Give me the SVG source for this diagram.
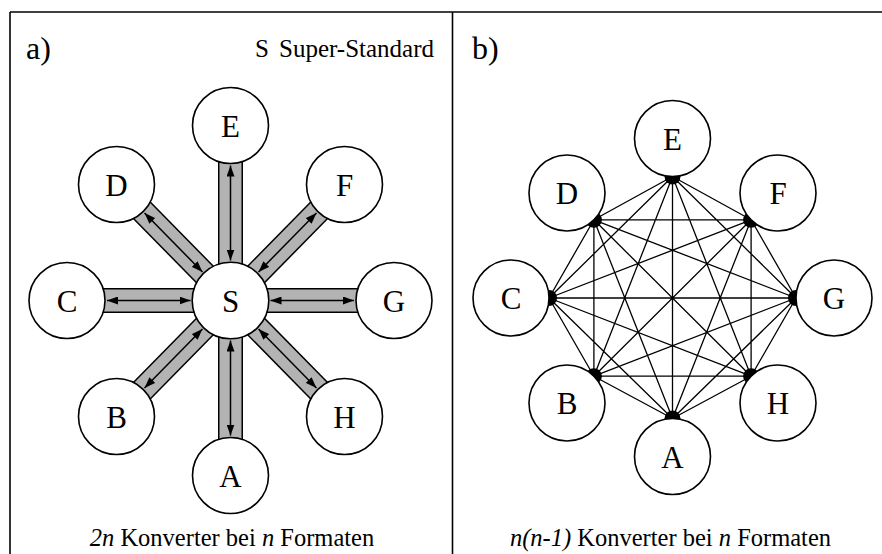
<svg xmlns="http://www.w3.org/2000/svg" width="882" height="554" viewBox="0 0 882 554">
<style>
.frame{stroke:#000;stroke-width:1.6;fill:none}
.node circle{fill:#fff;stroke:#000;stroke-width:1.6}
.node text{font-family:"Liberation Serif","Times New Roman",serif;font-size:31px;text-anchor:middle;fill:#000}
.lbl{font-family:"Liberation Serif","Times New Roman",serif;fill:#000}
.bandO{stroke:#000;stroke-width:25;fill:none}
.bandI{stroke:#b3b3b3;stroke-width:22;fill:none}
.arr{stroke:#000;stroke-width:1.5;fill:none;marker-start:url(#ah);marker-end:url(#ah)}
.edge{stroke:#000;stroke-width:1.3;fill:none}
.dot{fill:#000}
</style>
<defs>
<marker id="ah" viewBox="0 0 11 8" refX="11" refY="4" markerWidth="11" markerHeight="8" markerUnits="userSpaceOnUse" orient="auto-start-reverse">
<path d="M0,0 L11,4 L0,8 Z" fill="#000"/>
</marker>
</defs>
<rect width="882" height="554" fill="#fff"/>
<g id="frame">
<line class="frame" x1="10" y1="12" x2="882" y2="12"/>
<line class="frame" x1="10" y1="12" x2="10" y2="554"/>
<line class="frame" x1="452.5" y1="12" x2="452.5" y2="554"/>
</g>
<g id="labels">
<text class="lbl" x="26" y="59" font-size="32">a)</text>
<text class="lbl" x="472" y="59" font-size="32">b)</text>
<text class="lbl" font-size="25" y="57"><tspan x="255">S</tspan><tspan x="279">Super-Standard</tspan></text>
<text class="lbl" font-size="24.5" x="232" y="546" text-anchor="middle"><tspan font-style="italic">2n</tspan> Konverter bei <tspan font-style="italic">n</tspan> Formaten</text>
<text class="lbl" font-size="24.5" x="670.5" y="546" text-anchor="middle"><tspan font-style="italic">n(n-1)</tspan> Konverter bei <tspan font-style="italic">n</tspan> Formaten</text>
</g>
<g id="connectors-a">
<g>
<line class="bandO" x1="230.5" y1="300.5" x2="230.5" y2="125.5"/>
<line class="bandO" x1="230.5" y1="300.5" x2="230.5" y2="475.5"/>
<line class="bandO" x1="230.5" y1="300.5" x2="67" y2="300.5"/>
<line class="bandO" x1="230.5" y1="300.5" x2="394" y2="300.5"/>
<line class="bandO" x1="230.5" y1="300.5" x2="116.5" y2="184.5"/>
<line class="bandO" x1="230.5" y1="300.5" x2="344.5" y2="184.5"/>
<line class="bandO" x1="230.5" y1="300.5" x2="116.5" y2="416.5"/>
<line class="bandO" x1="230.5" y1="300.5" x2="344.5" y2="416.5"/>
<line class="bandI" x1="230.5" y1="300.5" x2="230.5" y2="125.5"/>
<line class="bandI" x1="230.5" y1="300.5" x2="230.5" y2="475.5"/>
<line class="bandI" x1="230.5" y1="300.5" x2="67" y2="300.5"/>
<line class="bandI" x1="230.5" y1="300.5" x2="394" y2="300.5"/>
<line class="bandI" x1="230.5" y1="300.5" x2="116.5" y2="184.5"/>
<line class="bandI" x1="230.5" y1="300.5" x2="344.5" y2="184.5"/>
<line class="bandI" x1="230.5" y1="300.5" x2="116.5" y2="416.5"/>
<line class="bandI" x1="230.5" y1="300.5" x2="344.5" y2="416.5"/>
</g>
<line class="arr" x1="230.5" y1="260.5" x2="230.5" y2="165.5"/>
<line class="arr" x1="230.5" y1="340.5" x2="230.5" y2="435.5"/>
<line class="arr" x1="190.5" y1="300.5" x2="107" y2="300.5"/>
<line class="arr" x1="270.5" y1="300.5" x2="354" y2="300.5"/>
<line class="arr" x1="202.45" y1="271.97" x2="144.55" y2="213.03"/>
<line class="arr" x1="258.55" y1="271.97" x2="316.45" y2="213.03"/>
<line class="arr" x1="202.45" y1="329.03" x2="144.55" y2="387.97"/>
<line class="arr" x1="258.55" y1="329.03" x2="316.45" y2="387.97"/>
</g>
<g id="a-S" class="node"><circle cx="230.5" cy="300.5" r="38.3"/><text x="230.5" y="311.5">S</text></g>
<g id="a-E" class="node"><circle cx="230.5" cy="125.5" r="38"/><text x="230.5" y="136.5">E</text></g>
<g id="a-F" class="node"><circle cx="344.5" cy="184.5" r="38"/><text x="344.5" y="195.5">F</text></g>
<g id="a-G" class="node"><circle cx="394" cy="300.5" r="38"/><text x="394" y="311.5">G</text></g>
<g id="a-H" class="node"><circle cx="344.5" cy="416.5" r="38"/><text x="344.5" y="427.5">H</text></g>
<g id="a-A" class="node"><circle cx="230.5" cy="475.5" r="38"/><text x="230.5" y="486.5">A</text></g>
<g id="a-B" class="node"><circle cx="116.5" cy="416.5" r="38"/><text x="116.5" y="427.5">B</text></g>
<g id="a-C" class="node"><circle cx="67" cy="300.5" r="38"/><text x="67" y="311.5">C</text></g>
<g id="a-D" class="node"><circle cx="116.5" cy="184.5" r="38"/><text x="116.5" y="195.5">D</text></g>
<g id="connectors-b">
<path class="edge" d="M672.5,176.5L751.1,219.8M672.5,176.5L796,298M672.5,176.5L751.1,376.2M672.5,176.5L672.5,418.5M672.5,176.5L593.9,376.2M672.5,176.5L549,298M672.5,176.5L593.9,219.8
M751.1,219.8L796,298M751.1,219.8L751.1,376.2M751.1,219.8L672.5,418.5M751.1,219.8L593.9,376.2M751.1,219.8L549,298M751.1,219.8L593.9,219.8
M796,298L751.1,376.2M796,298L672.5,418.5M796,298L593.9,376.2M796,298L549,298M796,298L593.9,219.8
M751.1,376.2L672.5,418.5M751.1,376.2L593.9,376.2M751.1,376.2L549,298M751.1,376.2L593.9,219.8
M672.5,418.5L593.9,376.2M672.5,418.5L549,298M672.5,418.5L593.9,219.8
M593.9,376.2L549,298M593.9,376.2L593.9,219.8
M549,298L593.9,219.8"/>
<circle class="dot" cx="672.5" cy="176.5" r="8"/>
<circle class="dot" cx="751.1" cy="219.8" r="8"/>
<circle class="dot" cx="796" cy="298" r="8"/>
<circle class="dot" cx="751.1" cy="376.2" r="8"/>
<circle class="dot" cx="672.5" cy="418.5" r="8"/>
<circle class="dot" cx="593.9" cy="376.2" r="8"/>
<circle class="dot" cx="549" cy="298" r="8"/>
<circle class="dot" cx="593.9" cy="219.8" r="8"/>
</g>
<g id="b-E" class="node"><circle cx="672.5" cy="138.5" r="38"/><text x="672.5" y="149.5">E</text></g>
<g id="b-F" class="node"><circle cx="778" cy="193" r="38"/><text x="778" y="204">F</text></g>
<g id="b-G" class="node"><circle cx="834" cy="298" r="38"/><text x="834" y="309">G</text></g>
<g id="b-H" class="node"><circle cx="778" cy="403" r="38"/><text x="778" y="414">H</text></g>
<g id="b-A" class="node"><circle cx="672.5" cy="456.5" r="38"/><text x="672.5" y="467.5">A</text></g>
<g id="b-B" class="node"><circle cx="567" cy="403" r="38"/><text x="567" y="414">B</text></g>
<g id="b-C" class="node"><circle cx="511" cy="298" r="38"/><text x="511" y="309">C</text></g>
<g id="b-D" class="node"><circle cx="567" cy="193" r="38"/><text x="567" y="204">D</text></g>
</svg>
